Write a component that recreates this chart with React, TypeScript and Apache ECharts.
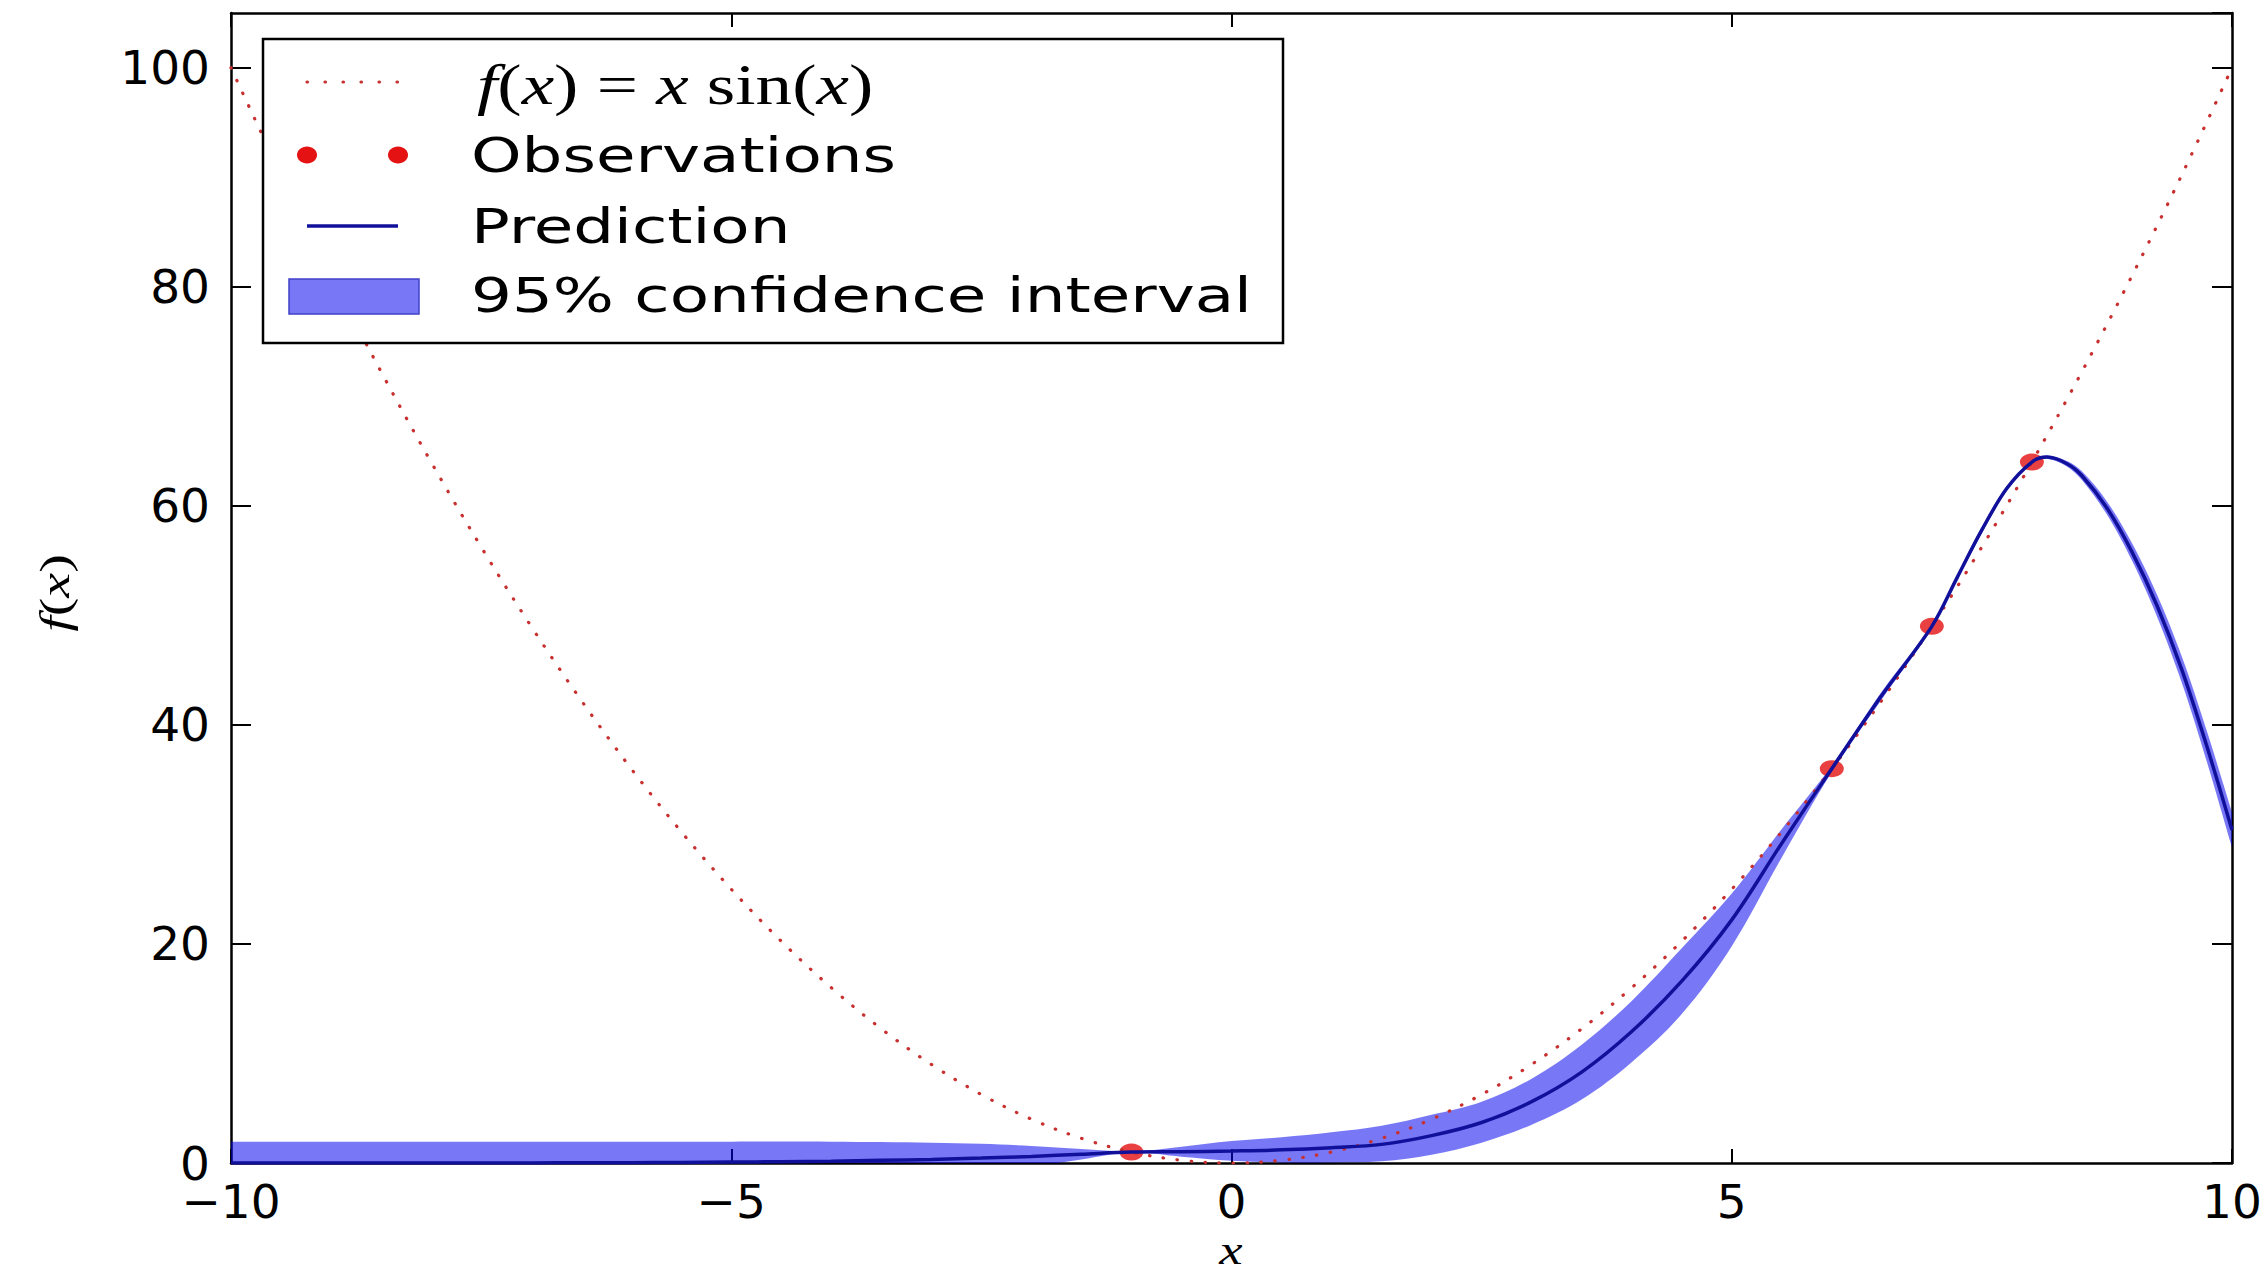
import React, { useEffect, useRef } from 'react';
import * as echarts from 'echarts';

// True function sampled along x (dotted curve)
const truthX = [
  -10, -9.5, -9, -8.5, -8, -7.5, -7, -6.5, -6, -5.5, -5, -4.5, -4, -3.5, -3, -2.5, -2, -1.5, -1, -0.5,
  0, 0.5, 1, 1.5, 2, 2.5, 3, 3.5, 4, 4.5, 5, 5.5, 6, 6.5, 7, 7.5, 8, 8.5, 9, 9.5, 10,
];
const truthY = [
  100, 90.25, 81, 72.25, 64, 56.25, 49, 42.25, 36, 30.25, 25, 20.25, 16, 12.25, 9, 6.25, 4, 2.25, 1, 0.25,
  0, 0.25, 1, 2.25, 4, 6.25, 9, 12.25, 16, 20.25, 25, 30.25, 36, 42.25, 49, 56.25, 64, 72.25, 81, 90.25, 100,
];

// Observed samples
const obsX = [-1, 6, 7, 8];
const obsY = [1, 36, 49, 64];

// Model prediction with its 95% band
const predX = [
  -10, -9.5, -9, -8.5, -8, -7.5, -7, -6.5, -6, -5.5, -5, -4.5, -4, -3.5, -3, -2.5, -2, -1.5, -1, -0.5,
  0, 0.5, 1, 1.5, 2, 2.5, 3, 3.5, 4, 4.5, 5, 5.5, 6, 6.5,
  7, 7.25, 7.5, 7.75, 8, 8.15, 8.35, 8.5, 8.75, 9, 9.25, 9.5, 9.75, 10,
];
const predMean = [
  0, 0, 0, 0, 0, 0.01, 0.01, 0.02, 0.03, 0.05, 0.08, 0.12, 0.17, 0.24, 0.33, 0.45, 0.6, 0.8, 1.0, 1.03,
  1.1, 1.2, 1.4, 1.7, 2.5, 3.7, 5.6, 8.3, 12.0, 16.6, 22.2, 29.2, 36.0, 42.7,
  49.0, 53.4, 57.8, 61.6, 64.0, 64.45, 63.85, 62.75, 59.8, 55.8, 50.9, 45.0, 38.0, 30.4,
];
const ciLower = [
  -1.95, -1.95, -1.95, -1.95, -1.95, -1.93, -1.93, -1.91, -1.89, -1.85, -1.79, -1.72, -1.61, -1.44, -1.2, -0.85, -0.35, 0.32, 0.95, 0.58,
  0.2, 0.05, 0.05, 0.15, 0.75, 1.85, 3.5, 5.8, 9.2, 13.6, 19.8, 27.9, 35.7, 42.35,
  48.8, 53.15, 57.5, 61.4, 63.9, 64.3, 63.6, 62.35, 59.2, 55.0, 49.9, 43.8, 36.6, 28.8,
];
const ciUpper = [
  1.95, 1.95, 1.95, 1.95, 1.95, 1.95, 1.95, 1.95, 1.95, 1.95, 1.95, 1.96, 1.95, 1.92, 1.86, 1.75, 1.55, 1.28, 1.05, 1.48,
  2.0, 2.35, 2.8, 3.4, 4.4, 5.6, 7.7, 10.8, 14.8, 19.6, 24.6, 30.5, 36.3, 43.05,
  49.2, 53.65, 58.1, 61.8, 64.1, 64.6, 64.1, 63.15, 60.4, 56.6, 51.9, 46.2, 39.4, 32.0,
];

const legendLabels = ['f(x) = x sin(x)', 'Observations', 'Prediction', '95% confidence interval'];

const RED_DOT = '#c83030';
const RED = '#e41212';
const NAVY = '#10109a';
const BAND = 'rgba(0,0,240,0.53)';
const SANS = 'DejaVu Sans';
const SERIF = 'Liberation Serif';
const SMOOTH = 0.35;

const mathRich = {
  i: { fontFamily: SERIF, fontStyle: 'italic', fontSize: 58, fill: '#000' },
  r: { fontFamily: SERIF, fontSize: 58, fill: '#000' },
};

export default function App() {
  const ref = useRef<HTMLDivElement>(null);

  useEffect(() => {
    const chart = echarts.init(ref.current!, null, { renderer: 'svg' });

    const axisCommon = {
      type: 'value' as const,
      axisLine: { show: true, onZero: false, lineStyle: { color: '#000', width: 2.5 } },
      splitLine: { show: false },
    };

    const rows = [82, 155, 226, 295];

    const option: any = {
      animation: false,
      backgroundColor: '#fff',
      grid: { left: 231, right: 36, top: 13, bottom: 114, outerBoundsMode: 'none' },
      xAxis: [
        {
          ...axisCommon,
          position: 'bottom',
          min: -10,
          max: 10,
          interval: 5,
          axisTick: { inside: true, length: 14, lineStyle: { color: '#000', width: 2 } },
          axisLabel: {
            margin: 20,
            fontSize: 47,
            lineHeight: 36,
            fontFamily: SANS,
            color: '#000',
            formatter: (v: number) => String(v).replace('-', '\u2212'),
          },
        },
        {
          ...axisCommon,
          position: 'top',
          min: -10,
          max: 10,
          interval: 5,
          axisTick: { inside: true, length: 14, lineStyle: { color: '#000', width: 2 } },
          axisLabel: { show: false },
        },
      ],
      yAxis: [
        {
          ...axisCommon,
          position: 'left',
          min: 0,
          max: 105,
          interval: 20,
          axisTick: { inside: true, length: 20, lineStyle: { color: '#000', width: 2 } },
          axisLabel: {
            margin: 21,
            fontSize: 47,
            lineHeight: 36,
            fontFamily: SANS,
            color: '#000',
            showMaxLabel: false,
            formatter: (v: number) => (v % 20 === 0 ? String(v) : ''),
          },
        },
        {
          ...axisCommon,
          position: 'right',
          min: 0,
          max: 105,
          interval: 20,
          axisTick: { inside: true, length: 20, lineStyle: { color: '#000', width: 2 } },
          axisLabel: { show: false },
        },
      ],
      series: [
        {
          name: legendLabels[0],
          type: 'line',
          data: truthX.map((x, i) => [x, truthY[i]]),
          smooth: SMOOTH,
          symbol: 'none',
          lineStyle: { color: RED_DOT, width: 3.2, type: [0.5, 13.5], cap: 'round' },
        },
        {
          name: legendLabels[1],
          type: 'scatter',
          data: obsX.map((x, i) => [x, obsY[i]]),
          symbol: 'circle',
          symbolSize: [24, 17],
          itemStyle: { color: RED },
        },
        {
          name: legendLabels[3],
          type: 'custom',
          coordinateSystem: 'cartesian2d',
          clip: true,
          data: predX.map((x, i) => [x, ciLower[i], ciUpper[i]]),
          encode: { x: 0, y: [1, 2] },
          renderItem: (params: any, api: any) => {
            if (params.dataIndex !== 0) return null;
            const top: number[][] = [];
            const bottom: number[][] = [];
            for (let i = 0; i < predX.length; i++) {
              top.push(api.coord([predX[i], ciUpper[i]]));
              bottom.push(api.coord([predX[i], ciLower[i]]));
            }
            // repeat the end vertices so the closing edges stay straight
            const n = top.length;
            const outline = [top[0], ...top, top[n - 1], bottom[n - 1], ...bottom.slice().reverse(), bottom[0]];
            const cs = params.coordSys;
            return {
              type: 'group',
              clipPath: { type: 'rect', shape: { x: cs.x, y: cs.y, width: cs.width, height: cs.height } },
              children: [
                {
                  type: 'polygon',
                  shape: { points: outline, smooth: SMOOTH },
                  style: { fill: BAND, stroke: null },
                },
              ],
            };
          },
        },
        {
          name: legendLabels[2],
          type: 'line',
          data: predX.map((x, i) => [x, predMean[i]]),
          smooth: SMOOTH,
          symbol: 'none',
          lineStyle: { color: NAVY, width: 3.5 },
        },
      ],
      graphic: [
        // legend frame
        {
          type: 'rect',
          z: 100,
          shape: { x: 263, y: 39, width: 1020, height: 304 },
          style: { fill: '#fff', stroke: '#000', lineWidth: 2.5 },
        },
        {
          type: 'line',
          z: 101,
          shape: { x1: 307, y1: rows[0], x2: 398, y2: rows[0] },
          style: { stroke: RED_DOT, lineWidth: 3.2, lineDash: [0.5, 17.5], lineCap: 'round' },
        },
        { type: 'ellipse', z: 101, shape: { cx: 307, cy: rows[1], rx: 10, ry: 8.5 }, style: { fill: RED } },
        { type: 'ellipse', z: 101, shape: { cx: 398, cy: rows[1], rx: 10, ry: 8.5 }, style: { fill: RED } },
        {
          type: 'line',
          z: 101,
          shape: { x1: 307, y1: rows[2], x2: 398, y2: rows[2] },
          style: { stroke: NAVY, lineWidth: 3.5 },
        },
        {
          type: 'rect',
          z: 101,
          shape: { x: 289, y: 279, width: 130, height: 35 },
          style: { fill: BAND, stroke: '#4040c8', lineWidth: 1.5 },
        },
        {
          type: 'text',
          z: 101,
          x: 477,
          y: rows[0] + 2,
          scaleX: 1.26,
          style: {
            text: '{i|f}{r|(}{i|x}{r|) = }{i|x}{r| sin(}{i|x}{r|)}',
            rich: mathRich,
            verticalAlign: 'middle',
            align: 'left',
          },
        },
        ...[1, 2, 3].map((k) => ({
          type: 'text',
          z: 101,
          x: 471,
          y: rows[k],
          scaleX: 1.34,
          style: {
            text: legendLabels[k],
            fontFamily: SANS,
            fontSize: 48,
            fill: '#000',
            verticalAlign: 'middle',
            align: 'left',
          },
        })),
        // axis titles
        {
          type: 'text',
          z: 101,
          x: 55,
          y: 593,
          rotation: Math.PI / 2,
          scaleX: 1.3,
          style: {
            text: '{i|f}{r|(}{i|x}{r|)}',
            rich: {
              i: { fontFamily: SERIF, fontStyle: 'italic', fontSize: 43, fill: '#000' },
              r: { fontFamily: SERIF, fontSize: 43, fill: '#000' },
            },
            align: 'center',
            verticalAlign: 'middle',
          },
        },
        {
          type: 'text',
          z: 101,
          x: 1231,
          y: 1250,
          scaleX: 1.25,
          style: {
            text: 'x',
            fontFamily: SERIF,
            fontStyle: 'italic',
            fontSize: 42,
            lineHeight: 28,
            fill: '#000',
            align: 'center',
            verticalAlign: 'middle',
          },
        },
      ],
    };

    chart.setOption(option);
    return () => chart.dispose();
  }, []);

  return (
    <div
      ref={ref}
      style={{ position: 'fixed', left: 0, top: 0, width: 2268, height: 1277, background: '#fff' }}
    />
  );
}
